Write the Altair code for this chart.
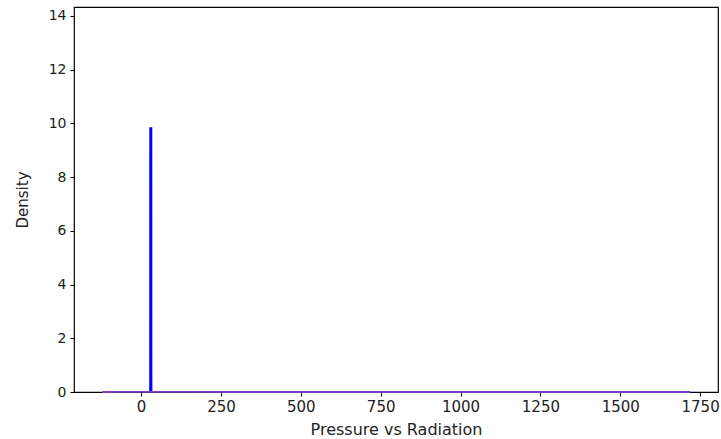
import altair as alt
import pandas as pd

# KDE curves
pressure_x = [29.95, 30.15, 30.25, 30.35, 30.42, 30.48, 30.55, 30.65, 30.85]
pressure_d = [0.0, 0.3, 2.5, 7.5, 9.85, 8.0, 3.0, 0.4, 0.0]

radiation_x = [-122, -50, 0, 50, 150, 300, 500, 700, 900, 1100, 1300, 1500, 1719]
radiation_d = [0.0001, 0.002, 0.0035, 0.003, 0.0015, 0.0008, 0.0006, 0.0005, 0.0005, 0.0004, 0.0003, 0.0001, 0.00001]

x_ticks = [0, 250, 500, 750, 1000, 1250, 1500, 1750]
y_ticks = [0, 2, 4, 6, 8, 10, 12, 14]

pdf = pd.DataFrame({"x": pressure_x, "d": pressure_d, "order": range(len(pressure_x))})
rdf = pd.DataFrame({"x": radiation_x, "d": radiation_d, "order": range(len(radiation_x))})

xscale = alt.Scale(domain=[-210, 1806], nice=False, zero=False)
yscale = alt.Scale(domain=[0, 14.33], nice=False)

xaxis = alt.Axis(values=x_ticks, format="d", title="Pressure vs Radiation", grid=False, domain=False,
                 tickColor="black", tickSize=4, labelFontSize=15, labelColor="#222",
                 labelPadding=3, titleFontSize=16, titleFontWeight="normal", titleColor="#222",
                 titlePadding=7, labelFont="DejaVu Sans", titleFont="DejaVu Sans")
yaxis = alt.Axis(values=y_ticks, format="d", title="Density", grid=False, domain=False,
                 tickColor="black", tickSize=4, labelFontSize=14, labelColor="#222",
                 labelPadding=4, titleFontSize=15, titleFontWeight="normal", titleColor="#222",
                 titlePadding=18, labelFont="DejaVu Sans", titleFont="DejaVu Sans")

blue = alt.Chart(pdf).mark_line(color="#0000ff", strokeWidth=3).encode(
    x=alt.X("x:Q", scale=xscale, axis=xaxis),
    y=alt.Y("d:Q", scale=yscale, axis=yaxis),
    order="order:Q",
)
purple = alt.Chart(rdf).mark_line(color="#7b3fc4", strokeWidth=1.8).encode(
    x=alt.X("x:Q", scale=xscale),
    y=alt.Y("d:Q", scale=yscale),
    order="order:Q",
)

chart = alt.layer(blue, purple).properties(
    width=644, height=385,
    autosize=alt.AutoSizeParams(type="none"),
    padding={"left": 74, "top": 7, "right": 3, "bottom": 47},
).configure_view(stroke="black", strokeWidth=1.2)

chart.save("out.html", embed_options={"renderer": "svg", "actions": False})
